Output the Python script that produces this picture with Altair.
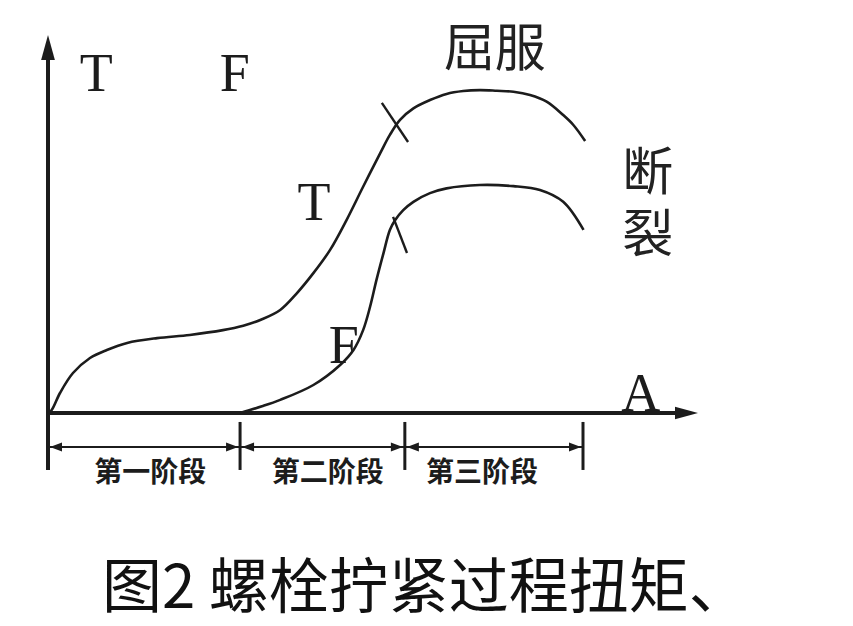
import altair as alt
import pandas as pd

# ---- data (angle A in arbitrary units, value in arbitrary units) ----
t_angle = [0, 0.69, 2.24, 4.67, 7.85, 11.0, 14.8, 20.4, 26.5, 32.7, 36.5, 40.0, 43.4,
           46.5, 49.6, 52.7, 55.8, 58.9, 62.1, 63.9, 65.8, 68.3, 71.4, 74.5, 77.6,
           80.7, 83.9, 87.0, 90.1, 93.2, 96.3, 98.2, 100.4]
t_value = [0, 0.94, 6.25, 12.5, 17.2, 19.7, 21.9, 23.4, 24.4, 25.9, 27.3, 29.3, 32.2,
           37.4, 43.7, 50.9, 60.3, 70.7, 81.2, 86.9, 91.6, 95.2, 97.8, 99.7, 100.6,
           100.9, 100.7, 100.4, 99.4, 97.3, 93.1, 90.0, 85.0]

f_angle = [35.9, 40.0, 43.4, 49.6, 54.6, 57.1, 58.9, 60.2, 61.4, 62.7, 63.9, 64.9,
           66.4, 68.3, 71.4, 74.5, 80.7, 87.0, 91.96, 96.3, 100.1]
f_value = [0, 2.1, 4.1, 8.75, 15.0, 19.7, 25.9, 33.2, 41.6, 49.9, 57.2, 60.3,
           63.4, 66.0, 68.7, 70.2, 71.25, 70.9, 69.7, 66.0, 57.2]

# yield marks on each curve
mark_a1 = [62.4, 64.5]
mark_v1 = [96.9, 61.3]
mark_a2 = [67.3, 67.1]
mark_v2 = [84.7, 50.0]

# stage boundaries and labels
stage_bounds = [0, 35.9, 66.7, 100]
stage_names = ["第一阶段", "第二阶段", "第三阶段"]
stage_label_a = [19.1, 52.3, 81.1]

# axis extents
y_axis_top = 113.4
y_arrow_tip = 118.1
x_axis_end = 118.1
x_arrow_tip = 121.5

# annotation texts
serif_text = ["T", "F", "T", "F", "A"]
serif_a = [9.0, 34.9, 49.7, 55.3, 110.8]
serif_v = [105.6, 105.6, 65.3, 20.6, 5.6]

cjk_text = ["屈服", "断\n裂"]
cjk_a = [83.5, 112.1]
cjk_v = [114.4, 75.6]

caption = "图2 螺栓拧紧过程扭矩、"
caption_a = 10.1
caption_v = -54.4

stage_tick_top = -2.8
stage_tick_bottom = -17.8
stage_arrow_v = -10.6
stage_label_v = -18.4

# ---- scales ----
W, H = 830, 608
xs = alt.Scale(domain=[-7.4766, 147.664], zero=False, nice=False)
ys = alt.Scale(domain=[-63.4375, 126.5625], zero=False, nice=False)
X = lambda f: alt.X(f, type="quantitative", scale=xs, axis=None)
Y = lambda f: alt.Y(f, type="quantitative", scale=ys, axis=None)
INK = "#1c1c1c"

t_df = pd.DataFrame({"a": t_angle, "v": t_value})
f_df = pd.DataFrame({"a": f_angle, "v": f_value})

t_line = alt.Chart(t_df).mark_line(color=INK, strokeWidth=2.6, interpolate="catmull-rom").encode(
    x=X("a"), y=Y("v"))
f_line = alt.Chart(f_df).mark_line(color=INK, strokeWidth=2.6, interpolate="catmull-rom").encode(
    x=X("a"), y=Y("v"))

marks_df = pd.DataFrame({"a": mark_a1, "v": mark_v1, "a2": mark_a2, "v2": mark_v2})
yield_marks = alt.Chart(marks_df).mark_rule(color=INK, strokeWidth=2.4).encode(
    x=X("a"), y=Y("v"), x2="a2", y2="v2")

axes_df = pd.DataFrame({
    "a": [0, 0], "v": [stage_tick_bottom, 0],
    "a2": [0, x_axis_end], "v2": [y_axis_top, 0]})
axes = alt.Chart(axes_df).mark_rule(color=INK, strokeWidth=4).encode(
    x=X("a"), y=Y("v"), x2="a2", y2="v2")

up_df = pd.DataFrame({"a": [0], "v": [y_arrow_tip]})
up_head = alt.Chart(up_df).mark_point(
    shape="M0,0L0.55,2L-0.55,2Z", size=625, filled=True, color=INK, opacity=1, strokeWidth=0
).encode(x=X("a"), y=Y("v"))
right_df = pd.DataFrame({"a": [x_arrow_tip], "v": [0]})
right_head = alt.Chart(right_df).mark_point(
    shape="M0,0L-2,-0.55L-2,0.55Z", size=529, filled=True, color=INK, opacity=1, strokeWidth=0
).encode(x=X("a"), y=Y("v"))

ticks_df = pd.DataFrame({"a": stage_bounds[1:], "v": [stage_tick_top] * 3,
                         "v2": [stage_tick_bottom] * 3})
stage_ticks = alt.Chart(ticks_df).mark_rule(color=INK, strokeWidth=3).encode(
    x=X("a"), y=Y("v"), y2="v2")

seg_df = pd.DataFrame({"a": stage_bounds[:-1], "a2": stage_bounds[1:],
                       "v": [stage_arrow_v] * 3})
stage_lines = alt.Chart(seg_df).mark_rule(color=INK, strokeWidth=2).encode(
    x=X("a"), x2="a2", y=Y("v"))
left_heads = alt.Chart(pd.DataFrame({"a": stage_bounds[:-1], "v": [stage_arrow_v] * 3})).mark_point(
    shape="M0,0L2,-0.75L2,0.75Z", size=144, filled=True, color=INK, opacity=1, strokeWidth=0
).encode(x=X("a"), y=Y("v"), xOffset=alt.value(2))
right_heads = alt.Chart(pd.DataFrame({"a": stage_bounds[1:], "v": [stage_arrow_v] * 3})).mark_point(
    shape="M0,0L-2,-0.75L-2,0.75Z", size=144, filled=True, color=INK, opacity=1, strokeWidth=0
).encode(x=X("a"), y=Y("v"), xOffset=alt.value(-2))

stage_lab = alt.Chart(pd.DataFrame({"a": stage_label_a, "v": [stage_label_v] * 3,
                                    "t": stage_names})).mark_text(
    font="Noto Sans CJK SC", fontSize=28, fontWeight="bold", color=INK,
    align="center", baseline="middle", dy=2
).encode(x=X("a"), y=Y("v"), text="t:N")

serif_lab = alt.Chart(pd.DataFrame({"a": serif_a, "v": serif_v, "t": serif_text})).mark_text(
    font="Liberation Serif", fontSize=54, color=INK, align="center", baseline="middle"
).encode(x=X("a"), y=Y("v"), text="t:N")

cjk_lab = alt.Chart(pd.DataFrame({"a": cjk_a, "v": cjk_v, "t": cjk_text})).mark_text(
    font="Noto Sans CJK SC", fontSize=51, color="#222222", align="center", baseline="middle",
    dy=4, lineBreak="\n", lineHeight=62
).encode(x=X("a"), y=Y("v"), text="t:N")

cap = alt.Chart(pd.DataFrame({"a": [caption_a], "v": [caption_v], "t": [caption]})).mark_text(
    font="Noto Sans CJK SC", fontSize=60, color="#111111", align="left", baseline="middle", dy=3
).encode(x=X("a"), y=Y("v"), text="t:N")

chart = alt.layer(
    axes, up_head, right_head, stage_ticks, stage_lines, left_heads, right_heads,
    t_line, f_line, yield_marks, stage_lab, serif_lab, cjk_lab, cap
).properties(
    width=W, height=H, padding=0, autosize=alt.AutoSizeParams(type="none"),
    background="white"
).configure_view(stroke=None)

chart.save("out.html", embed_options={"renderer": "svg", "actions": False})
